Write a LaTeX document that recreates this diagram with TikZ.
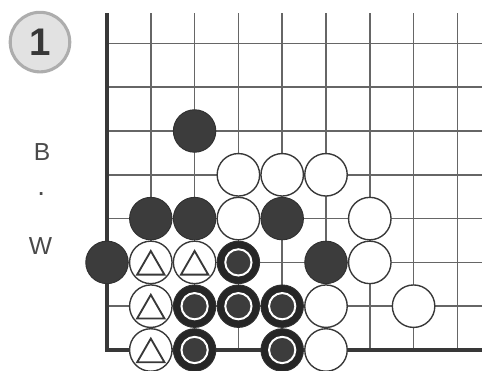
\documentclass[tikz,border=0pt]{standalone}
\usepackage{fontspec}
\setmainfont{Liberation Sans}
\usetikzlibrary{shapes.geometric}
\definecolor{gridgray}{HTML}{666666}
\definecolor{edgegray}{HTML}{383838}
\definecolor{stoneblack}{HTML}{3C3C3C}
\definecolor{markblack}{HTML}{262626}
\definecolor{badgefill}{HTML}{E2E2E2}
\definecolor{badgering}{HTML}{ADADAD}
\definecolor{labelgray}{HTML}{4A4A4A}

\begin{document}
\begin{tikzpicture}[
    gridline/.style={draw=gridgray, line width=1pt},
    edgeline/.style={draw=edgegray, line width=2.6pt, line join=miter},
    bstone/.style={circle, fill=stoneblack, draw=stoneblack!80!black, line width=0.6pt, minimum size=0.97cm, inner sep=0pt},
    wstone/.style={circle, fill=white, draw=edgegray, line width=0.9pt, minimum size=0.97cm, inner sep=0pt},
    ringmark/.style={circle, draw=white, fill=stoneblack, line width=1.3pt, minimum size=0.6cm, inner sep=0pt},
    trimark/.style={regular polygon, regular polygon sides=3, draw=edgegray, line width=1.2pt, minimum size=0.72cm, inner sep=0pt},
    sidelabel/.style={font=\fontsize{16}{16}\selectfont, text=labelgray}
]
\useasboundingbox (-2.443,-0.479) rectangle (8.562,7.991);

\foreach \c in {1,...,8}
    \draw[gridline] (\c,0) -- (\c,7.69);
\foreach \r in {1,...,7}
    \draw[gridline] (0,\r) -- (8.562,\r);
\draw[edgeline] (0,7.69) -- (0,0) -- (8.562,0);

\node[circle, fill=badgefill, draw=badgering, line width=2pt, minimum size=1.36cm, inner sep=0pt,
      font=\bfseries\fontsize{25}{25}\selectfont, text=edgegray] (num) at (-1.53,7.03) {1};
\node[sidelabel] (blabel) at (-1.48,4.52) {B};
\node[sidelabel, font=\fontsize{18}{18}\selectfont] (dot) at (-1.50,3.57) {.};
\node[sidelabel] (wlabel) at (-1.52,2.37) {W};

\foreach \c/\r in {2/5, 1/3, 2/3, 4/3, 0/2, 5/2}
    \node[bstone] (b\c\r) at (\c,\r) {};
\foreach \c/\r in {3/4, 4/4, 5/4, 3/3, 6/3, 6/2, 5/1, 7/1, 5/0}
    \node[wstone] (w\c\r) at (\c,\r) {};
\foreach \c/\r in {1/2, 2/2, 1/1, 1/0} {
    \node[wstone] (w\c\r) at (\c,\r) {};
    \node[trimark, yshift=-0.1cm] (t\c\r) at (w\c\r) {};
}
\foreach \c/\r in {3/2, 2/1, 3/1, 4/1, 2/0, 4/0} {
    \node[bstone, fill=markblack] (b\c\r) at (\c,\r) {};
    \node[ringmark] (m\c\r) at (b\c\r) {};
}
\end{tikzpicture}
\end{document}
